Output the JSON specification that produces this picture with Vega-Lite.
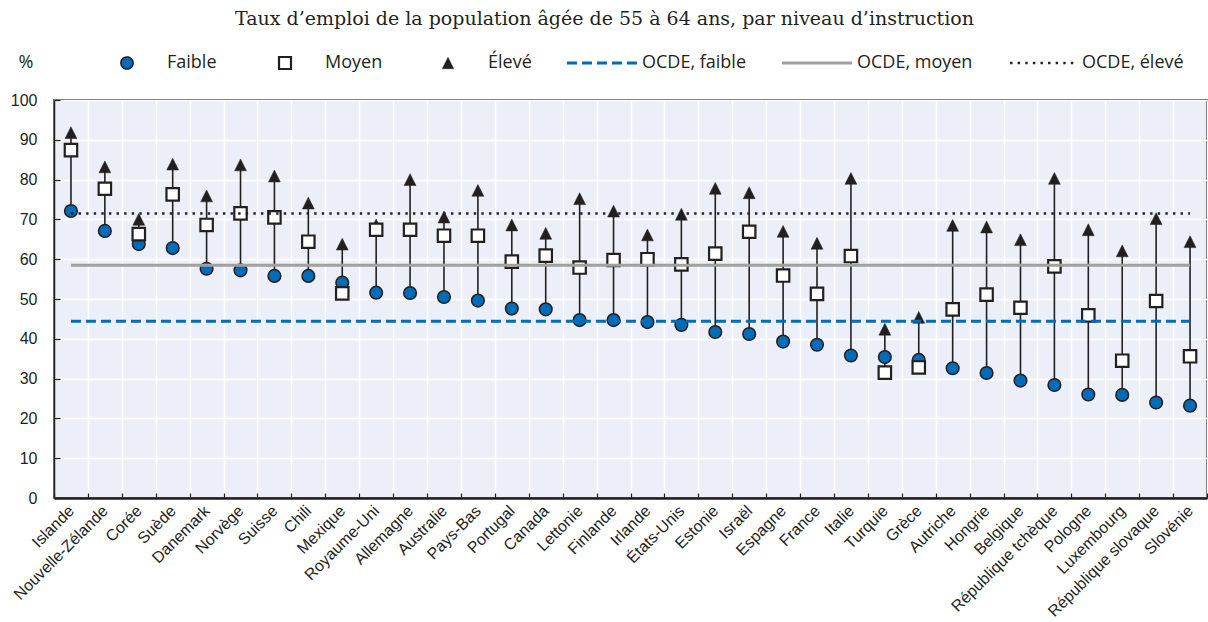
{
  "$schema": "https://vega.github.io/schema/vega-lite/v6.json",
  "width": 1153,
  "height": 398,
  "autosize": {"type": "none"},
  "padding": {"left": 54, "top": 100, "right": 1, "bottom": 124},
  "background": "white",
  "title": {
    "text": "Taux d’emploi de la population âgée de 55 à 64 ans, par niveau d’instruction",
    "font": "DejaVu Serif",
    "fontSize": 19,
    "fontWeight": "normal",
    "color": "#231F20",
    "anchor": "middle",
    "dx": -26,
    "offset": 24
  },
  "datasets": {
    "pays": [
      {"pays": "Islande", "Faible": 72.1, "Moyen": 87.4, "Élevé": 91.8},
      {"pays": "Nouvelle-Zélande", "Faible": 67.1, "Moyen": 77.7, "Élevé": 83.2},
      {"pays": "Corée", "Faible": 63.8, "Moyen": 66.3, "Élevé": 70.0},
      {"pays": "Suède", "Faible": 62.8, "Moyen": 76.3, "Élevé": 83.9},
      {"pays": "Danemark", "Faible": 57.6, "Moyen": 68.6, "Élevé": 75.9},
      {"pays": "Norvège", "Faible": 57.2, "Moyen": 71.5, "Élevé": 83.7},
      {"pays": "Suisse", "Faible": 55.8, "Moyen": 70.5, "Élevé": 80.9},
      {"pays": "Chili", "Faible": 55.8, "Moyen": 64.4, "Élevé": 74.1},
      {"pays": "Mexique", "Faible": 54.1, "Moyen": 51.4, "Élevé": 63.8},
      {"pays": "Royaume-Uni", "Faible": 51.6, "Moyen": 67.4, "Élevé": 68.6},
      {"pays": "Allemagne", "Faible": 51.5, "Moyen": 67.4, "Élevé": 80.0},
      {"pays": "Australie", "Faible": 50.5, "Moyen": 65.9, "Élevé": 70.6},
      {"pays": "Pays-Bas", "Faible": 49.6, "Moyen": 65.9, "Élevé": 77.3},
      {"pays": "Portugal", "Faible": 47.6, "Moyen": 59.4, "Élevé": 68.6},
      {"pays": "Canada", "Faible": 47.4, "Moyen": 60.9, "Élevé": 66.5},
      {"pays": "Lettonie", "Faible": 44.7, "Moyen": 57.9, "Élevé": 75.2},
      {"pays": "Finlande", "Faible": 44.7, "Moyen": 59.8, "Élevé": 72.1},
      {"pays": "Irlande", "Faible": 44.2, "Moyen": 60.0, "Élevé": 66.1},
      {"pays": "États-Unis", "Faible": 43.5, "Moyen": 58.7, "Élevé": 71.3},
      {"pays": "Estonie", "Faible": 41.7, "Moyen": 61.4, "Élevé": 77.8},
      {"pays": "Israël", "Faible": 41.2, "Moyen": 66.9, "Élevé": 76.7},
      {"pays": "Espagne", "Faible": 39.3, "Moyen": 55.9, "Élevé": 67.0},
      {"pays": "France", "Faible": 38.5, "Moyen": 51.3, "Élevé": 64.0},
      {"pays": "Italie", "Faible": 35.8, "Moyen": 60.8, "Élevé": 80.3},
      {"pays": "Turquie", "Faible": 35.4, "Moyen": 31.5, "Élevé": 42.4},
      {"pays": "Grèce", "Faible": 34.7, "Moyen": 32.8, "Élevé": 45.4},
      {"pays": "Autriche", "Faible": 32.6, "Moyen": 47.4, "Élevé": 68.5},
      {"pays": "Hongrie", "Faible": 31.4, "Moyen": 51.1, "Élevé": 68.1},
      {"pays": "Belgique", "Faible": 29.5, "Moyen": 47.8, "Élevé": 64.9},
      {"pays": "République tchèque", "Faible": 28.4, "Moyen": 58.2, "Élevé": 80.3},
      {"pays": "Pologne", "Faible": 26.0, "Moyen": 45.9, "Élevé": 67.4},
      {"pays": "Luxembourg", "Faible": 25.9, "Moyen": 34.5, "Élevé": 62.1},
      {"pays": "République slovaque", "Faible": 24.0, "Moyen": 49.5, "Élevé": 70.2},
      {"pays": "Slovénie", "Faible": 23.2, "Moyen": 35.6, "Élevé": 64.4}
    ],
    "ocde": [
      {"pays": "Islande", "serie": "OCDE, faible", "valeur": 44.4},
      {"pays": "Slovénie", "serie": "OCDE, faible", "valeur": 44.4},
      {"pays": "Islande", "serie": "OCDE, moyen", "valeur": 58.5},
      {"pays": "Slovénie", "serie": "OCDE, moyen", "valeur": 58.5},
      {"pays": "Islande", "serie": "OCDE, élevé", "valeur": 71.5},
      {"pays": "Slovénie", "serie": "OCDE, élevé", "valeur": 71.5}
    ]
  },
  "config": {
    "view": {"fill": "#ECEFF7", "stroke": "#231F20", "strokeWidth": 1.5},
    "axisX": {
      "title": null, "labelAngle": -45, "labelAlign": "right", "labelBaseline": "middle",
      "labelFont": "Liberation Sans", "labelFontSize": 16, "labelColor": "#231F20",
      "tickBand": "extent", "ticks": true, "tickSize": -5, "tickColor": "#231F20", "tickWidth": 1.2,
      "domainColor": "#231F20", "domainWidth": 2.5,
      "grid": true, "gridColor": "#FFFFFF", "gridWidth": 1.5, "gridOpacity": 1, "labelPadding": 15
    },
    "axisY": {
      "titleAngle": 0, "titleAlign": "left", "titleBaseline": "middle",
      "titleX": -36, "titleY": -38, "titleFont": "Open Sans", "titleFontSize": 18,
      "titleFontWeight": "normal", "titleColor": "#231F20",
      "tickCount": 10,
      "labelFont": "Liberation Sans", "labelFontSize": 16, "labelColor": "#231F20",
      "tickSize": -6, "tickColor": "#231F20", "tickWidth": 1.2,
      "domainColor": "#231F20", "domainWidth": 1.5,
      "grid": true, "gridColor": "#FFFFFF", "gridWidth": 1.5, "gridOpacity": 1, "labelPadding": 23
    },
    "legend": {
      "orient": "none",
      "legendX": 64,
      "legendY": -46,
      "direction": "horizontal",
      "columns": 6,
      "gridAlign": "none",
      "columnPadding": 28,
      "labelOffset": 31,
      "symbolSize": 130,
      "labelFont": "Open Sans",
      "labelFontSize": 18,
      "labelColor": "#231F20",
      "padding": 0,
      "titlePadding": 0
    }
  },
  "encoding": {
    "x": {
      "field": "pays", "type": "nominal", "sort": null,
      "scale": {
        "domain": ["Islande","Nouvelle-Zélande","Corée","Suède","Danemark","Norvège","Suisse","Chili","Mexique","Royaume-Uni","Allemagne","Australie","Pays-Bas","Portugal","Canada","Lettonie","Finlande","Irlande","États-Unis","Estonie","Israël","Espagne","France","Italie","Turquie","Grèce","Autriche","Hongrie","Belgique","République tchèque","Pologne","Luxembourg","République slovaque","Slovénie"],
        "paddingInner": 0, "paddingOuter": 0
      },
      "axis": {"title": null}
    }
  },
  "layer": [
    {
      "data": {"name": "pays"},
      "transform": [
        {"fold": ["Faible", "Élevé", "Moyen"], "as": ["serie", "valeur"]},
        {"aggregate": [{"op": "min", "field": "valeur", "as": "bas"}, {"op": "max", "field": "valeur", "as": "haut"}], "groupby": ["pays"]}
      ],
      "mark": {"type": "rule", "color": "#231F20", "strokeWidth": 1.6},
      "encoding": {
        "y": {"field": "bas", "type": "quantitative", "scale": {"domain": [0, 100], "nice": false}, "axis": {"title": "%"}},
        "y2": {"field": "haut"}
      }
    },
    {
      "data": {"name": "pays"},
      "transform": [{"fold": ["Faible", "Élevé", "Moyen"], "as": ["serie", "valeur"]}],
      "mark": {"type": "point", "filled": true, "size": 140, "opacity": 1},
      "encoding": {
        "y": {"field": "valeur", "type": "quantitative", "axis": {"title": "%"}},
        "shape": {
          "field": "serie", "type": "nominal",
          "scale": {
            "domain": ["Faible","Moyen","Élevé","OCDE, faible","OCDE, moyen","OCDE, élevé"],
            "range": [
              "M-6.14,0M6.14,0M1.07,0A1.07,1.07,0,1,1,-1.07,0A1.07,1.07,0,1,1,1.07,0Z",
              "M-6.14,0M6.14,0M-1.05,-1.05H1.05V1.05H-1.05Z",
              "M-6.14,0M6.14,0M0,-1L-1,1L1,1Z",
              "M-6.14,0H6.14",
              "M-6.14,0H6.14",
              "M-6.14,0M6.14,0M-5.6,0H5.6"
            ]
          },
          "legend": {"title": null}
        },
        "fill": {
          "field": "serie", "type": "nominal",
          "scale": {
            "domain": ["Faible","Moyen","Élevé","OCDE, faible","OCDE, moyen","OCDE, élevé"],
            "range": ["#006BB6","#FFFFFF","#231F20","transparent","transparent","transparent"]
          },
          "legend": {"title": null}
        },
        "stroke": {
          "field": "serie", "type": "nominal",
          "scale": {
            "domain": ["Faible","Moyen","Élevé","OCDE, faible","OCDE, moyen","OCDE, élevé"],
            "range": ["#231F20","#231F20","#231F20","#006BB6","#A0A0A0","#231F20"]
          },
          "legend": {"title": null}
        },
        "strokeWidth": {
          "field": "serie", "type": "nominal",
          "scale": {
            "type": "ordinal",
            "domain": ["Faible","Moyen","Élevé","OCDE, faible","OCDE, moyen","OCDE, élevé"],
            "range": [1.5, 2.2, 0.5, 3, 3, 2.5]
          },
          "legend": {"title": null}
        }
      }
    },
    {
      "data": {"name": "ocde"},
      "mark": {"type": "line", "strokeCap": "butt"},
      "encoding": {
        "y": {"field": "valeur", "type": "quantitative", "axis": {"title": "%"}},
        "stroke": {
          "field": "serie", "type": "nominal",
          "scale": {
            "domain": ["Faible","Moyen","Élevé","OCDE, faible","OCDE, moyen","OCDE, élevé"],
            "range": ["#231F20","#231F20","#231F20","#006BB6","#A0A0A0","#231F20"]
          },
          "legend": {"title": null}
        },
        "strokeWidth": {
          "field": "serie", "type": "nominal",
          "scale": {
            "type": "ordinal",
            "domain": ["Faible","Moyen","Élevé","OCDE, faible","OCDE, moyen","OCDE, élevé"],
            "range": [1.5, 2.2, 0.5, 3, 3, 2.5]
          },
          "legend": {"title": null}
        },
        "strokeDash": {
          "field": "serie", "type": "nominal",
          "scale": {
            "domain": ["Faible","Moyen","Élevé","OCDE, faible","OCDE, moyen","OCDE, élevé"],
            "range": [[1,0],[1,0],[1,0],[10,5],[1,0],[2.4,5.2]]
          },
          "legend": {"title": null}
        }
      }
    }
  ]
}
